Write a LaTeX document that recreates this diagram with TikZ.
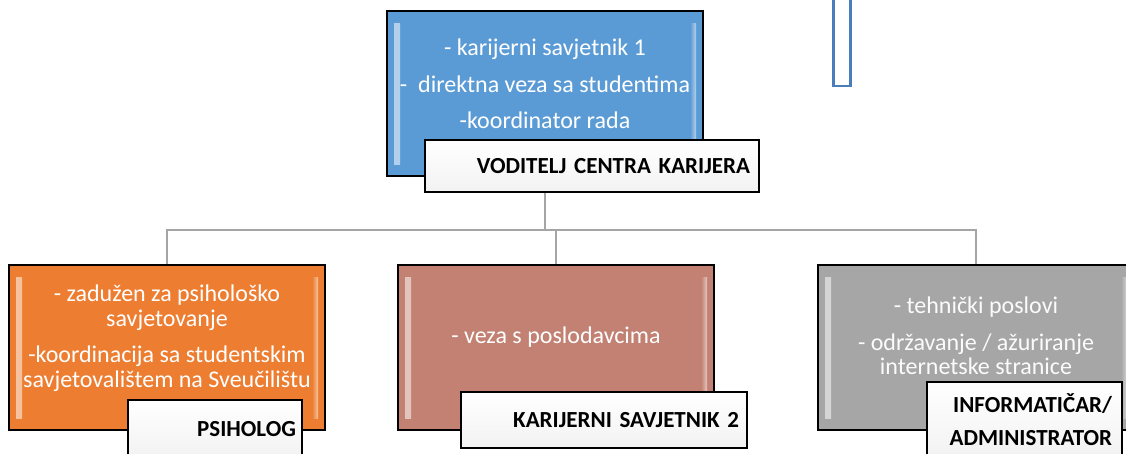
\documentclass[tikz,border=0pt]{standalone}
\usepackage{fontspec}
\setmainfont{Carlito}
\usetikzlibrary{positioning}

\definecolor{plava}{HTML}{5B9BD5}
\definecolor{narancasta}{HTML}{ED7D31}
\definecolor{ruzicasta}{HTML}{C28172}
\definecolor{siva}{HTML}{A6A6A6}
\definecolor{linija}{HTML}{A5A5A5}
\definecolor{rub}{HTML}{4A7EBB}

\begin{document}
\begin{tikzpicture}[x=1pt,y=-1pt,
    okvir/.style={draw=black,line width=1.3pt,fill=#1,inner sep=0pt,
                  minimum height=165pt,
                  path picture={
                    \shade[left color=white,right color=#1,opacity=.55]
                      ([xshift=7pt,yshift=-12pt]path picture bounding box.north west)
                      rectangle ([xshift=13pt,yshift=12pt]path picture bounding box.south west);
                    \shade[left color=#1,right color=white,opacity=.55]
                      ([xshift=-13pt,yshift=-12pt]path picture bounding box.north east)
                      rectangle ([xshift=-7pt,yshift=12pt]path picture bounding box.south east);
                  }},
    natpis/.style={draw=black,line width=1.3pt,top color=white,bottom color=black!5,
                   inner ysep=0pt,align=right,
                   font=\fontsize{23}{33}\selectfont\bfseries},
    opis/.style={text=#1,align=center,font=\fontsize{24}{24.5}\selectfont},
    opis/.default=white,
    veza/.style={draw=linija,line width=2.5pt}]

  \useasboundingbox (0,0) rectangle (1126,453);

  % gornji dio
  \node[okvir=plava,minimum width=316pt] (voditelj) at (545,93.5) {};
  \node[opis] (voditelj-txt) at (545,84)
    {- karijerni savjetnik 1\\[12pt]
     -\ \ direktna veza sa studentima\\[12pt]
     -koordinator rada};
  \node[natpis,minimum width=334pt,minimum height=52pt,text width=316pt]
    (voditelj-naslov) at (592,166) {VODITELJ CENTRA KARIJERA};

  \node[draw=rub,line width=2.5pt,fill=white,minimum width=17pt,minimum height=92pt]
    (strelica) at (842,40) {};

  % donji red
  \node[okvir=narancasta,minimum width=316pt] (psiholog) at (167,347.5) {};
  \node[opis] (psiholog-txt) at (167,338)
    {- zadužen za psihološko\\ savjetovanje\\[12pt]
     -koordinacija sa studentskim\\ savjetovalištem na Sveučilištu};

  \node[okvir=ruzicasta,minimum width=316pt] (savjetnik) at (556,347.5) {};
  \node[opis] (savjetnik-txt) at (556,337) {- veza s poslodavcima};

  \node[okvir=siva,minimum width=316pt] (informaticar) at (976,347.5) {};
  \node[opis=white!95!siva] (informaticar-txt) at (976,336)
    {- tehnički poslovi\\[12pt]
     - održavanje / ažuriranje\\ internetske stranice};

  \node[natpis,minimum width=174pt,minimum height=58pt,text width=162pt]
    (psiholog-naslov) at (215,429) {PSIHOLOG};
  \node[natpis,minimum width=286pt,minimum height=56pt,text width=270pt]
    (savjetnik-naslov) at (604,420) {KARIJERNI SAVJETNIK 2};
  \node[natpis,minimum width=195pt,minimum height=76pt,text width=175pt]
    (informaticar-naslov) at (1024.5,420) {INFORMATIČAR/\\ADMINISTRATOR};

  % veze
  \coordinate (sabirnica) at (545,230);
  \draw[veza] (voditelj.south |- voditelj-naslov.south) -- (sabirnica);
  \draw[veza] (sabirnica) -| (psiholog.north);
  \draw[veza] (sabirnica) -| (savjetnik.north);
  \draw[veza] (sabirnica) -| (informaticar.north);
\end{tikzpicture}
\end{document}
